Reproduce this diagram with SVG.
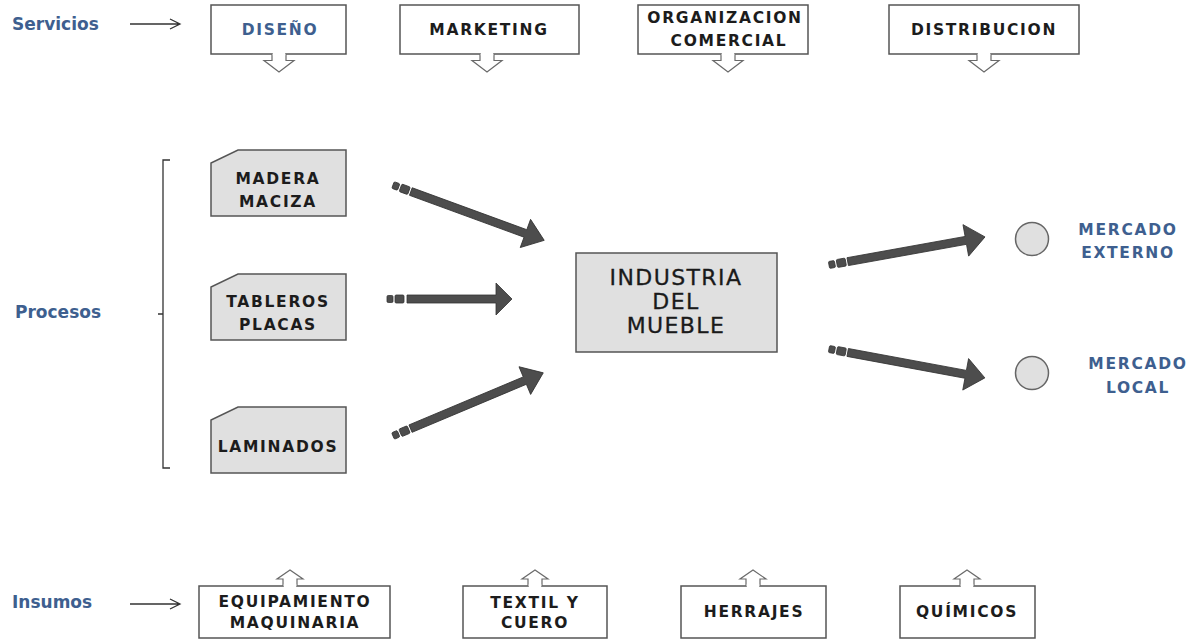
<svg xmlns="http://www.w3.org/2000/svg" width="1196" height="639" viewBox="0 0 1196 639">
<style>
.lbl{font-family:"DejaVu Sans","Liberation Sans",sans-serif;font-weight:bold;font-size:17px;fill:#3e5f8f}
.bt{font-family:"DejaVu Sans","Liberation Sans",sans-serif;font-weight:bold;font-size:15.5px;letter-spacing:1.7px;fill:#1c1c1c;text-anchor:middle}
.blue{fill:#3e5f8f}
.box{fill:#fff;stroke:#555;stroke-width:1.5}
.proc{fill:#e0e0e0;stroke:#555;stroke-width:1.5}
.call{fill:#fff;stroke:#6a6a6a;stroke-width:1.2;stroke-linejoin:miter}
.big{font-family:"DejaVu Sans","Liberation Sans",sans-serif;font-size:22px;letter-spacing:1.4px;fill:#1a1a1a;stroke:#1a1a1a;stroke-width:0.3;text-anchor:middle}
.thin{fill:none;stroke:#333;stroke-width:1.3}
.fat{fill:#4d4d4d;stroke:#333;stroke-width:0.8}
.circ{fill:#e0e0e0;stroke:#666;stroke-width:1.5}
</style>
<defs>
<g id="upCall"><path class="call" d="M-7,16 V9 H-13 L0,0 L13,9 H7 V16"/><rect x="-6.2" y="14" width="12.4" height="3" fill="#fff"/></g>
<g id="dnCall"><path class="call" d="M-7,0 V6.5 H-15 L0,18 L15,6.5 H7 V0"/><rect x="-6.2" y="-1.5" width="12.4" height="3" fill="#fff"/></g>
</defs>

<!-- side labels -->
<g id="servicios"><text class="lbl" x="12" y="30">Servicios</text><path class="thin" d="M130,24 H180 M170,19 L180,24 L170,29"/></g>
<g id="procesos"><text class="lbl" x="15" y="318">Procesos</text><path class="thin" d="M170,160 H163 V468 H170 M163,314 H158"/></g>
<g id="insumos"><text class="lbl" x="12" y="608">Insumos</text><path class="thin" d="M130,604 H180 M170,599 L180,604 L170,609"/></g>

<!-- top service boxes -->
<g id="diseno"><rect class="box" x="211" y="5" width="135" height="49"/><use href="#dnCall" x="279" y="54"/><text class="bt blue" x="280" y="35">DISEÑO</text></g>
<g id="marketing"><rect class="box" x="400" y="5" width="179" height="49"/><use href="#dnCall" x="487" y="54"/><text class="bt" x="489" y="35">MARKETING</text></g>
<g id="organizacion"><rect class="box" x="638" y="5" width="170" height="49"/><use href="#dnCall" x="728" y="54"/><text class="bt" x="725" y="23">ORGANIZACION</text><text class="bt" x="729" y="46">COMERCIAL</text></g>
<g id="distribucion"><rect class="box" x="889" y="5" width="190" height="49"/><use href="#dnCall" x="984" y="54"/><text class="bt" x="984" y="35">DISTRIBUCION</text></g>

<!-- process nodes -->
<g id="madera"><path class="proc" d="M238,150 H346 V216 H211 V163 Z"/><text class="bt" x="278" y="184">MADERA</text><text class="bt" x="278" y="207">MACIZA</text></g>
<g id="tableros"><path class="proc" d="M238,274 H346 V340 H211 V287 Z"/><text class="bt" x="278" y="307">TABLEROS</text><text class="bt" x="278" y="330">PLACAS</text></g>
<g id="laminados"><path class="proc" d="M238,407 H346 V473 H211 V420 Z"/><text class="bt" x="278" y="452">LAMINADOS</text></g>

<g id="industria"><rect class="proc" x="576" y="253" width="201" height="99"/><text class="big" x="676" y="285">INDUSTRIA</text><text class="big" x="676" y="309">DEL</text><text class="big" x="676" y="333">MUEBLE</text></g>

<g id="externo"><circle class="circ" cx="1032" cy="239" r="16.5"/><text class="bt blue" x="1128" y="235">MERCADO</text><text class="bt blue" x="1128" y="258">EXTERNO</text></g>
<g id="local"><circle class="circ" cx="1032" cy="373" r="16.5"/><text class="bt blue" x="1138" y="369">MERCADO</text><text class="bt blue" x="1138" y="393">LOCAL</text></g>

<!-- bottom input boxes -->
<g id="equipamiento"><rect class="box" x="199" y="586" width="191" height="52"/><use href="#upCall" x="290" y="570"/><text class="bt" x="295" y="607">EQUIPAMIENTO</text><text class="bt" x="295" y="628">MAQUINARIA</text></g>
<g id="textil"><rect class="box" x="463" y="586" width="144" height="52"/><use href="#upCall" x="535" y="570"/><text class="bt" x="535" y="608">TEXTIL Y</text><text class="bt" x="535" y="628">CUERO</text></g>
<g id="herrajes"><rect class="box" x="681" y="586" width="145" height="52"/><use href="#upCall" x="753" y="570"/><text class="bt" x="754" y="617">HERRAJES</text></g>
<g id="quimicos"><rect class="box" x="900" y="586" width="135" height="52"/><use href="#upCall" x="967" y="570"/><text class="bt" x="967" y="617">QUÍMICOS</text></g>

<!-- connectors -->
<g id="connectors" class="fat">
<g transform="translate(393,185) rotate(20.1)"><rect x="0" y="-3.5" width="6" height="7" rx="1.2"/><rect x="8" y="-4" width="9" height="8" rx="1.2"/><path d="M19,-4 H141 V-15 L161,0 L141,15 V4 H19 Z"/></g>
<g transform="translate(387,299)"><rect x="0" y="-3.5" width="6" height="7" rx="1.2"/><rect x="8" y="-4" width="9" height="8" rx="1.2"/><path d="M20,-4 H109 V-16 L125,0 L109,16 V4 H20 Z"/></g>
<g transform="translate(393,436) rotate(-22.8)"><rect x="0" y="-3.5" width="6" height="7" rx="1.2"/><rect x="8" y="-4" width="9" height="8" rx="1.2"/><path d="M19,-4 H143 V-15 L163,0 L143,15 V4 H19 Z"/></g>
<g transform="translate(829,265) rotate(-10.2)"><rect x="0" y="-3.5" width="6" height="7" rx="1.2"/><rect x="8" y="-4" width="9" height="8" rx="1.2"/><path d="M19,-4 H139 V-16 L158.5,0 L139,16 V4 H19 Z"/></g>
<g transform="translate(829,349) rotate(10.5)"><rect x="0" y="-3.5" width="6" height="7" rx="1.2"/><rect x="8" y="-4" width="9" height="8" rx="1.2"/><path d="M19,-4 H139 V-16 L158.5,0 L139,16 V4 H19 Z"/></g>
</g>
</svg>
